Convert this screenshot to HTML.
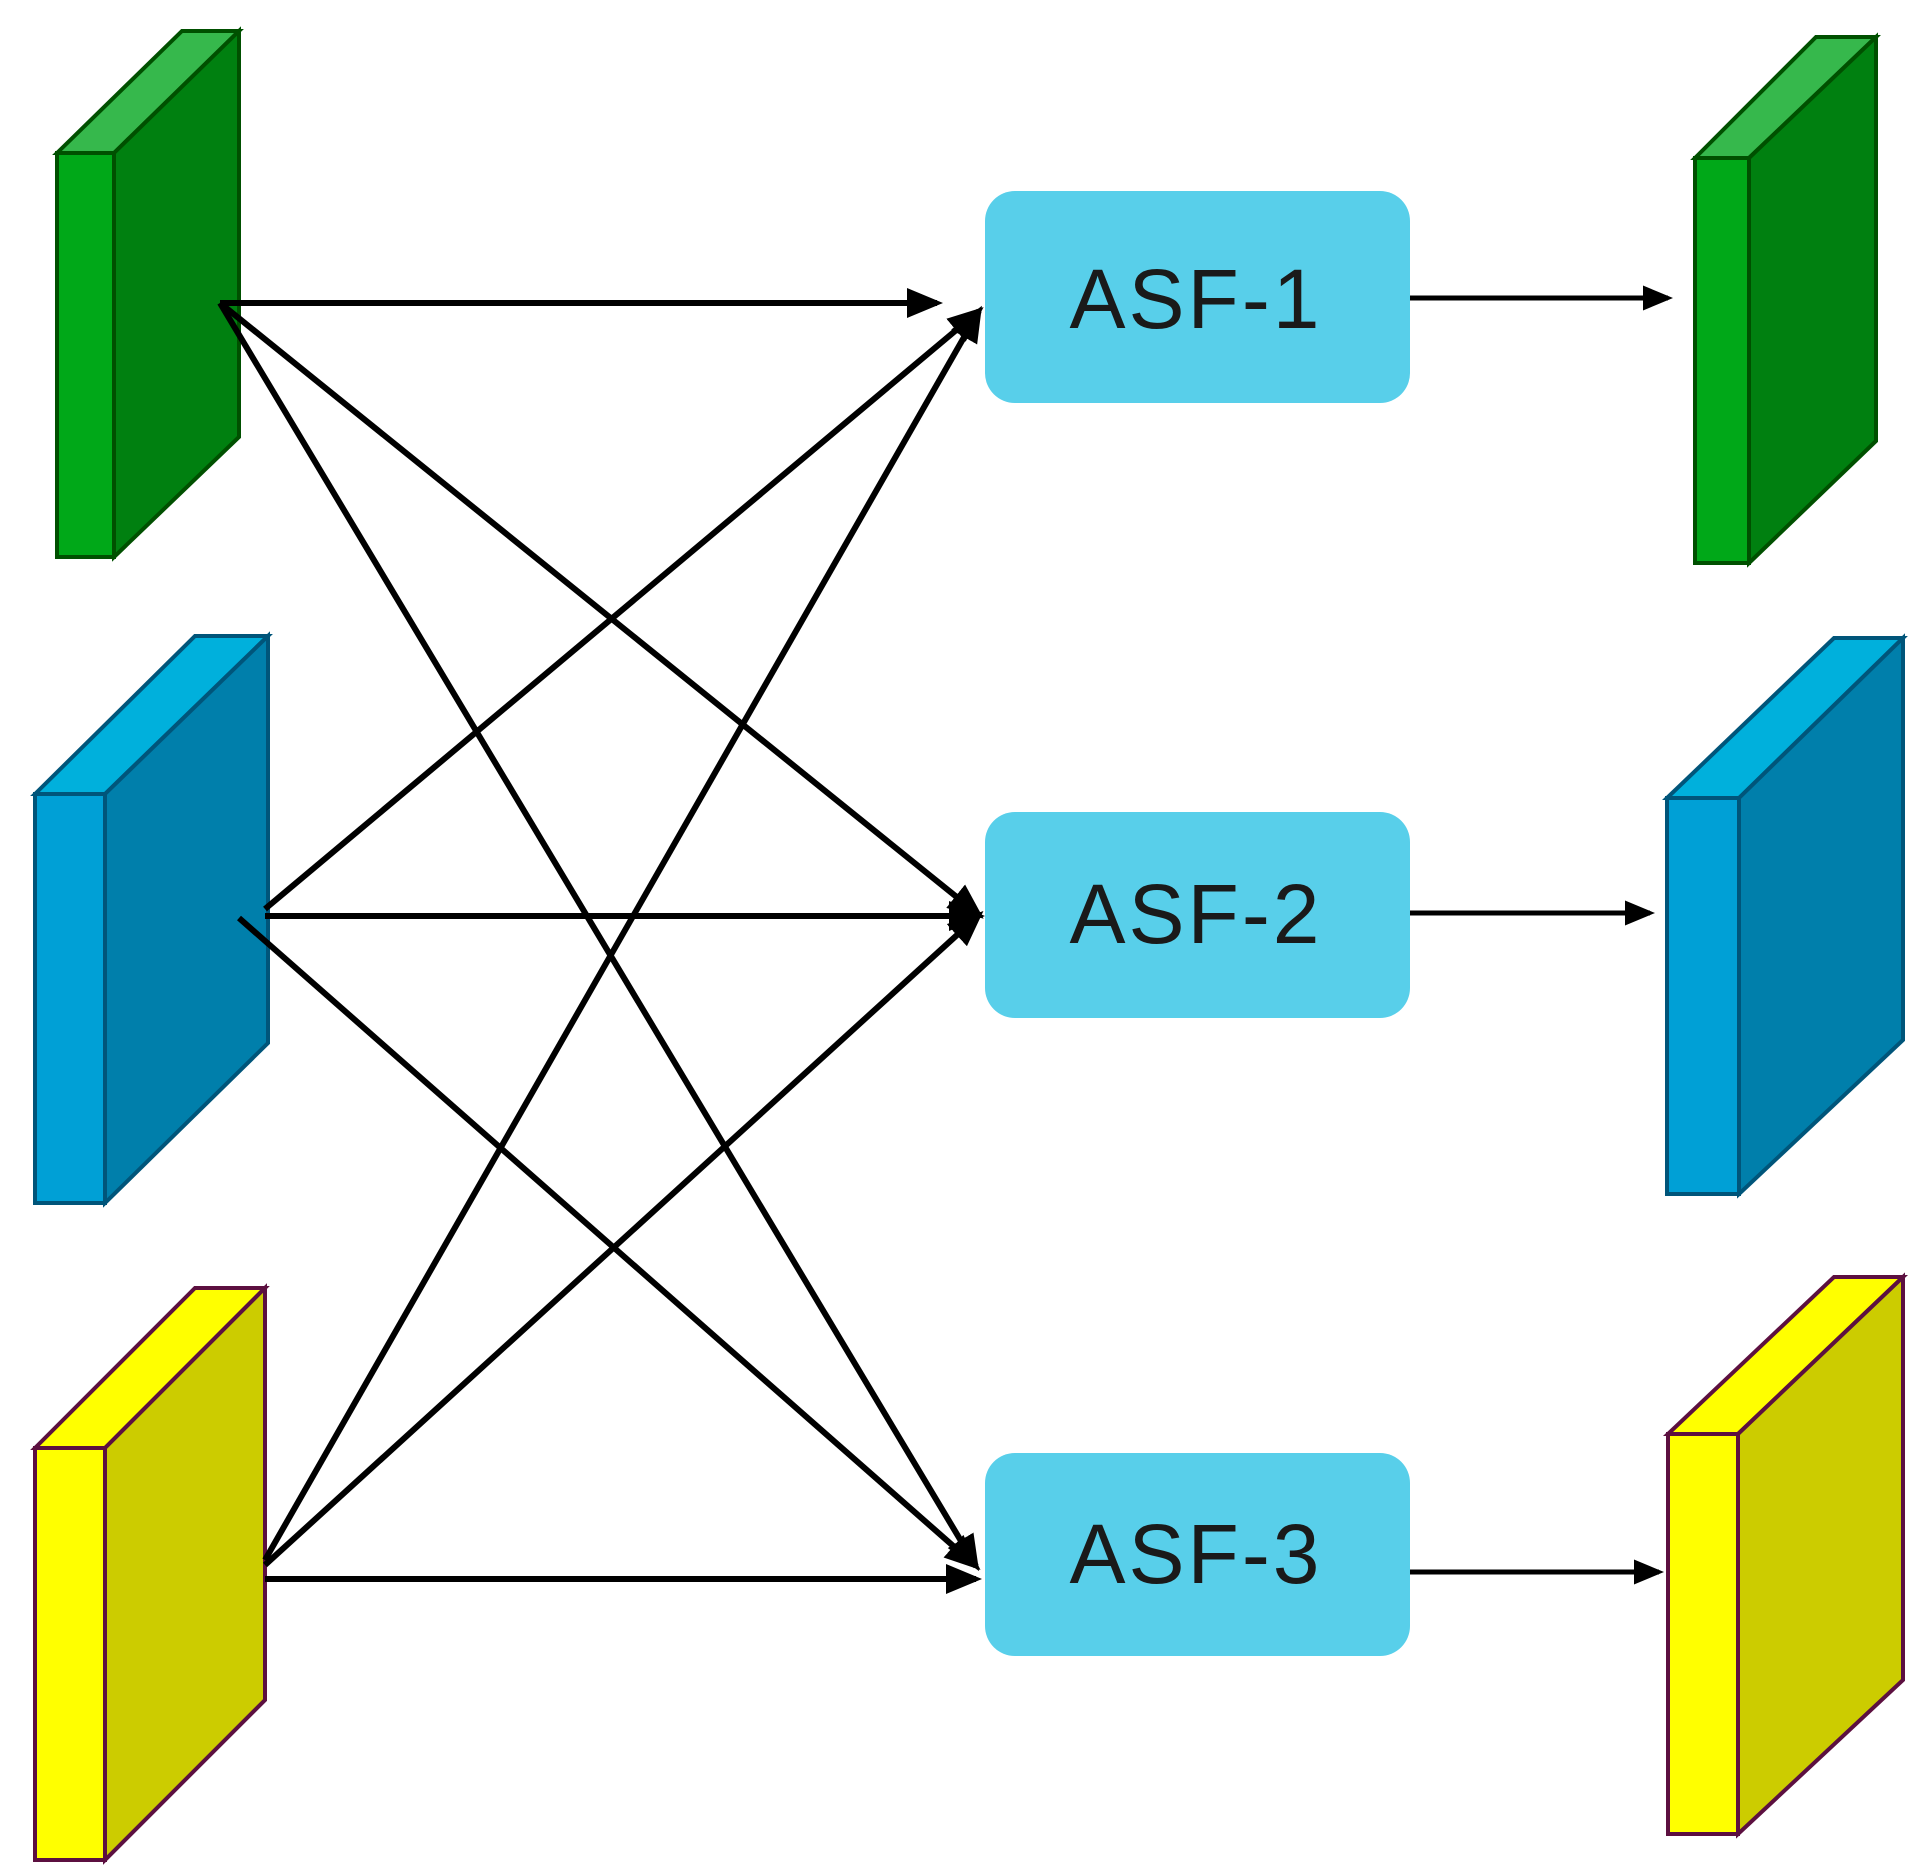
<!DOCTYPE html>
<html><head><meta charset="utf-8"><style>
html,body{margin:0;padding:0;background:#fff;}
svg{display:block;}
</style></head><body>
<svg width="1930" height="1866" viewBox="0 0 1930 1866" xmlns="http://www.w3.org/2000/svg">
<defs>
<marker id="ah" markerWidth="6" markerHeight="6" refX="5" refY="3" orient="auto" markerUnits="strokeWidth">
<path d="M0,0.5 L6,3 L0,5.5 Z" fill="#000"/>
</marker>
</defs>
<!-- Left green -->
<g stroke="#005000" stroke-width="4" stroke-linejoin="miter">
<polygon points="57,153 182,31 239,31 114,153" fill="#36b84c"/>
<polygon points="114,153 239,31 239,437 114,557" fill="#008010"/>
<rect x="57" y="153" width="57" height="404" fill="#00a818"/>
</g>
<!-- Left blue -->
<g stroke="#00557a" stroke-width="4">
<polygon points="35,794 195,636 268,636 105,794" fill="#00b0dc"/>
<polygon points="105,794 268,636 268,1043 105,1203" fill="#007fab"/>
<rect x="35" y="794" width="70" height="409" fill="#00a0d6"/>
</g>
<!-- Left yellow -->
<g stroke="#5c1040" stroke-width="4">
<polygon points="35,1448 195,1288 265,1288 105,1448" fill="#ffff00"/>
<polygon points="105,1448 265,1288 265,1700 105,1860" fill="#cccc00"/>
<rect x="35" y="1448" width="70" height="412" fill="#ffff00"/>
</g>
<!-- Right green -->
<g stroke="#005000" stroke-width="4">
<polygon points="1695,158 1816,37 1876,37 1749,158" fill="#36b84c"/>
<polygon points="1749,158 1876,37 1876,441 1749,563" fill="#008010"/>
<rect x="1695" y="158" width="54" height="405" fill="#00a818"/>
</g>
<!-- Right blue -->
<g stroke="#00557a" stroke-width="4">
<polygon points="1667,798 1834,638 1903,638 1739,798" fill="#00b0dc"/>
<polygon points="1739,798 1903,638 1903,1040 1739,1194" fill="#007fab"/>
<rect x="1667" y="798" width="72" height="396" fill="#00a0d6"/>
</g>
<!-- Right yellow -->
<g stroke="#5c1040" stroke-width="4">
<polygon points="1668,1434 1834,1277 1903,1277 1738,1434" fill="#ffff00"/>
<polygon points="1738,1434 1903,1277 1903,1680 1738,1834" fill="#cccc00"/>
<rect x="1668" y="1434" width="70" height="400" fill="#ffff00"/>
</g>
<!-- ASF boxes -->
<g fill="#58cfea">
<rect x="985" y="191" width="425" height="212" rx="30"/>
<rect x="985" y="812" width="425" height="206" rx="30"/>
<rect x="985" y="1453" width="425" height="203" rx="30"/>
</g>
<g font-family="Liberation Sans, sans-serif" font-size="84" fill="#1a1a1a" text-anchor="middle">
<text x="1196" y="328" letter-spacing="3">ASF-1</text>
<text x="1196" y="943" letter-spacing="3">ASF-2</text>
<text x="1196" y="1583" letter-spacing="3">ASF-3</text>
</g>
<!-- connectors -->
<g stroke="#000" stroke-width="6" fill="none" marker-end="url(#ah)">
<line x1="220" y1="303" x2="937" y2="303"/>
<line x1="220" y1="303" x2="979" y2="915"/>
<line x1="220" y1="303" x2="976" y2="1566"/>
<line x1="265" y1="909" x2="979" y2="311"/>
<line x1="265" y1="916" x2="979" y2="916"/>
<line x1="239" y1="918" x2="976" y2="1566"/>
<line x1="265" y1="1560" x2="979" y2="311"/>
<line x1="265" y1="1565" x2="979" y2="915"/>
<line x1="265" y1="1579" x2="976" y2="1579"/>
</g>
<g stroke="#000" stroke-width="5" fill="none" marker-end="url(#ah)">
<line x1="1410" y1="298" x2="1668" y2="298"/>
<line x1="1410" y1="913" x2="1650" y2="913"/>
<line x1="1410" y1="1572" x2="1659" y2="1572"/>
</g>
</svg>
</body></html>
